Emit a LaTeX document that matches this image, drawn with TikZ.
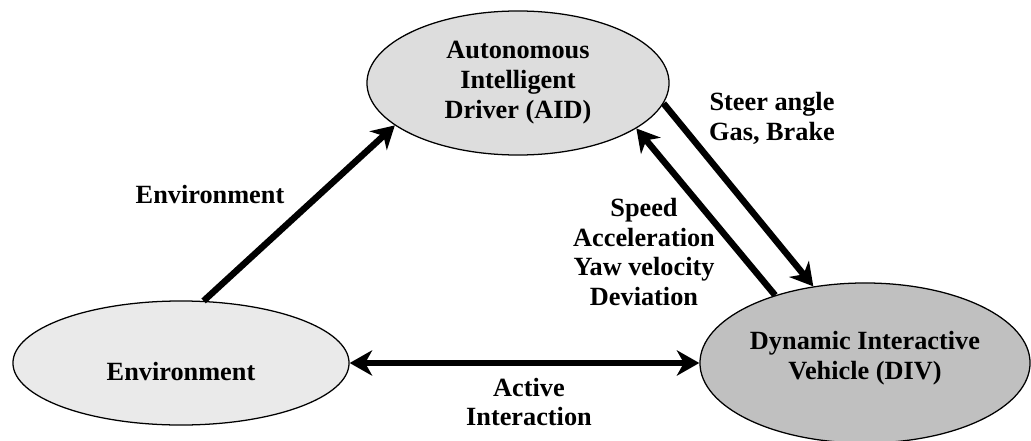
\documentclass[tikz,border=0pt]{standalone}
\usepackage{fontspec}
\setmainfont{Liberation Serif}
\usetikzlibrary{shapes.geometric,arrows.meta}
\definecolor{aidgray}{HTML}{DDDDDD}
\definecolor{envgray}{HTML}{EAEAEA}
\definecolor{divgray}{HTML}{C0C0C0}
\begin{document}
\begin{tikzpicture}[x=0.025cm,y=-0.025cm,
    every node/.style={font=\fontsize{18.7}{21.3}\selectfont\bfseries, align=center},
    blob/.style={ellipse, draw, line width=0.9pt, inner sep=0pt},
    >={Stealth[length=16pt,width=18pt,inset=5pt]},
    flow/.style={line width=4.6pt, ->}]
                \useasboundingbox (0,0) rectangle (1031,440);
                \node[blob, fill=aidgray, minimum width=7.55cm, minimum height=3.6cm] (aid) at (518,83) {Autonomous\\Intelligent\\Driver (AID)};
                \node[blob, fill=envgray, minimum width=8.4cm, minimum height=3.1cm] (env) at (181,363) {\rule{0pt}{25pt}Environment};
                \node[blob, fill=divgray, minimum width=8.25cm, minimum height=4cm] (div) at (865,363) {Dynamic Interactive\\Vehicle (DIV)\rule[-11pt]{0pt}{11pt}};

                \draw [flow] (env.70) -- (aid.199);
                \draw [flow] (aid.-8) -- (div.124);
                \draw [flow] (div.143) -- (aid.-21);
                \draw [flow, <->] (env.east) -- (div.west);

                \node (lblenv) at (210,195) {Environment};
                \node (lblsteer) at (772,118) {Steer angle\\Gas, Brake};
                \node (lblspeed) at (644,252) {Speed\\Acceleration\\Yaw velocity\\Deviation};
                \node (lblactive) at (529,402) {Active\\Interaction};
            \end{tikzpicture}
\end{document}
